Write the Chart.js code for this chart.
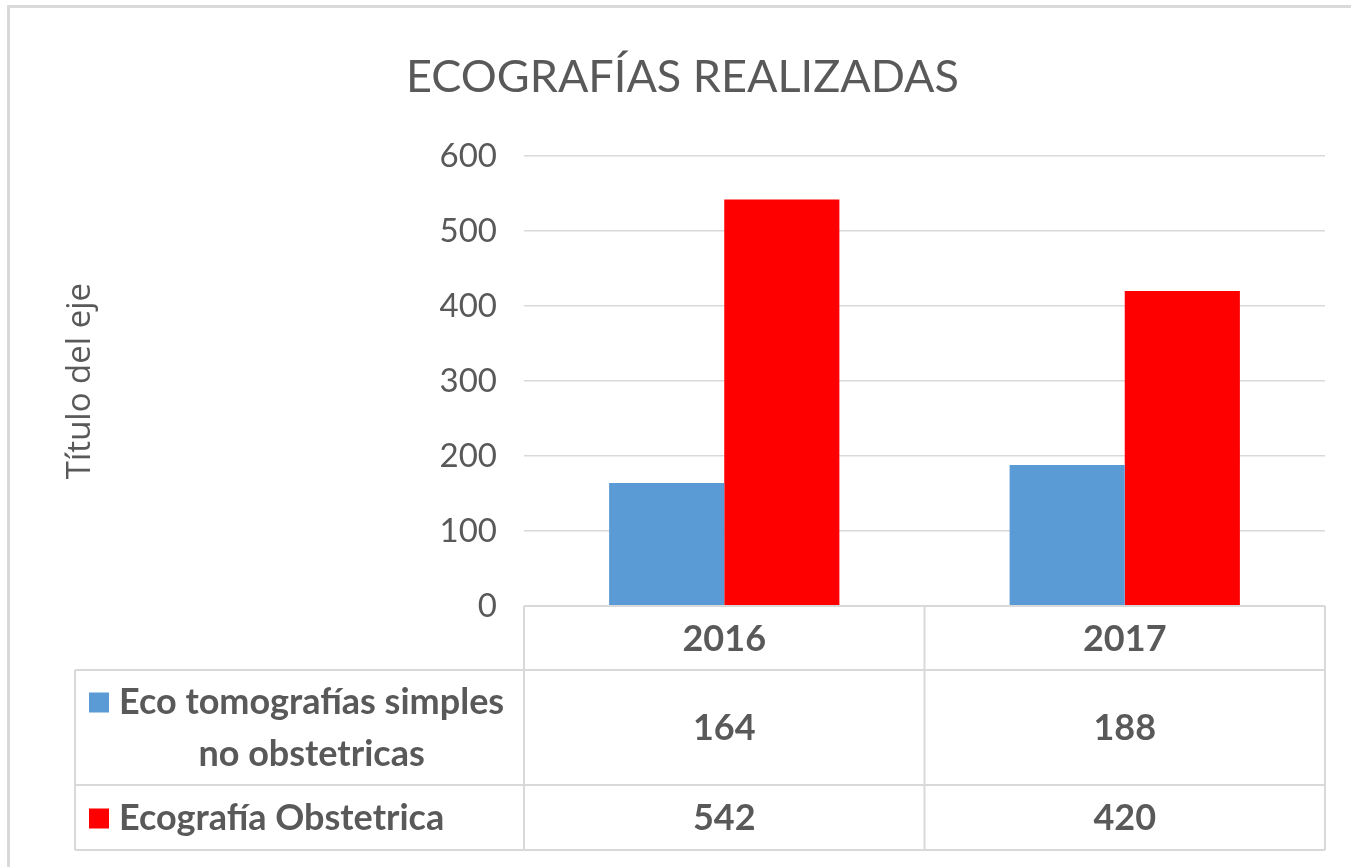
<!DOCTYPE html>
<html>
<head>
<meta charset="utf-8">
<script src="https://cdn.jsdelivr.net/npm/chart.js@4"></script>
<style>
  html, body { margin: 0; padding: 0; background: #fff; overflow: hidden; }
  #frame { position: absolute; left: 7px; top: 5px; width: 1400px; height: 900px;
           border-left: 3px solid #d9d9d9; border-top: 3px solid #d9d9d9; }
  #wrap { position: absolute; left: 0; top: 0; width: 1351px; height: 867px; }
</style>
</head>
<body>
<div id="frame"></div>
<div id="wrap"><canvas id="chart"></canvas></div>
<script>
const years = ['2016', '2017'];
const seriesNames = [['Eco tomografías simples', 'no obstetricas'], ['Ecografía Obstetrica']];
const ecoSimples = [164, 188];
const ecoObstetrica = [542, 420];
const yMax = 600;
const yStep = 100;

const TEXT = '#595959';
const GRID = '#d9d9d9';

// draws the data table under the plot, using the x scale for the columns
const dataTable = {
  id: 'dataTable',
  afterDraw(chart) {
    const { ctx, chartArea: area, scales: { x } } = chart;
    const rows = [area.bottom, area.bottom + 64, area.bottom + 179, area.bottom + 244];
    const tableLeft = 75;
    const half = (x.getPixelForValue(1) - x.getPixelForValue(0)) / 2;
    const cols = [area.left, ...years.map((_, i) => x.getPixelForValue(i) + half)];

    ctx.save();
    ctx.strokeStyle = GRID;
    ctx.lineWidth = 2;
    ctx.beginPath();
    ctx.moveTo(area.left, rows[0]); ctx.lineTo(area.right, rows[0]);
    for (let r = 1; r < rows.length; r++) {
      ctx.moveTo(tableLeft, rows[r]); ctx.lineTo(area.right, rows[r]);
    }
    cols.forEach(c => { ctx.moveTo(c, rows[0]); ctx.lineTo(c, rows[3]); });
    ctx.moveTo(tableLeft, rows[1]); ctx.lineTo(tableLeft, rows[3]);
    ctx.stroke();

    ctx.fillStyle = TEXT;
    ctx.font = 'bold 36px Lato';
    ctx.textAlign = 'center';
    ctx.textBaseline = 'middle';
    years.forEach((yr, i) => {
      ctx.fillText(yr, x.getPixelForValue(i), (rows[0] + rows[1]) / 2 + 1);
    });

    chart.data.datasets.forEach((ds, d) => {
      const mid = (rows[d + 1] + rows[d + 2]) / 2 + 1;
      ds.data.forEach((v, i) => {
        ctx.fillStyle = TEXT;
        ctx.textAlign = 'center';
        ctx.fillText(String(v), x.getPixelForValue(i), mid);
      });

      const lines = seriesNames[d];
      const lineGap = 52;
      const firstY = mid - (lines.length - 1) * lineGap / 2;
      ctx.fillStyle = ds.backgroundColor;
      ctx.fillRect(89, firstY - 10, 20, 20);
      ctx.fillStyle = TEXT;
      ctx.textAlign = 'left';
      ctx.fillText(lines[0], 119, firstY);
      const w0 = ctx.measureText(lines[0]).width;
      ctx.textAlign = 'center';
      for (let l = 1; l < lines.length; l++) {
        ctx.fillText(lines[l], 119 + w0 / 2, firstY + l * lineGap);
      }
    });
    ctx.restore();
  }
};

new Chart(document.getElementById('chart'), {
  type: 'bar',
  data: {
    labels: years,
    datasets: [
      { label: seriesNames[0].join(' '), data: ecoSimples, backgroundColor: '#5b9bd5' },
      { label: seriesNames[1].join(' '), data: ecoObstetrica, backgroundColor: '#ff0000' }
    ]
  },
  options: {
    responsive: true,
    maintainAspectRatio: false,
    animation: false,
    layout: { padding: { top: 0, left: 40, right: 26, bottom: 261 } },
    datasets: { bar: { categoryPercentage: 0.575, barPercentage: 1.0 } },
    plugins: {
      legend: { display: false },
      tooltip: { enabled: false },
      title: {
        display: true,
        text: 'ECOGRAFÍAS REALIZADAS',
        color: TEXT,
        font: { family: 'Lato', size: 45, weight: 'normal' },
        padding: { top: 50, bottom: 52 }
      }
    },
    scales: {
      x: { display: false },
      y: {
        min: 0,
        max: yMax,
        afterFit: s => { s.width = 484; },
        ticks: { stepSize: yStep, color: TEXT, padding: 27, font: { family: 'Lato', size: 33 } },
        grid: { color: GRID, lineWidth: 1.5, drawTicks: false },
        border: { display: false },
        title: {
          display: true,
          text: 'Título del eje',
          color: TEXT,
          font: { family: 'Open Sans', size: 33 },
          padding: { top: 21 }
        }
      }
    }
  },
  plugins: [dataTable]
});
</script>
</body>
</html>
